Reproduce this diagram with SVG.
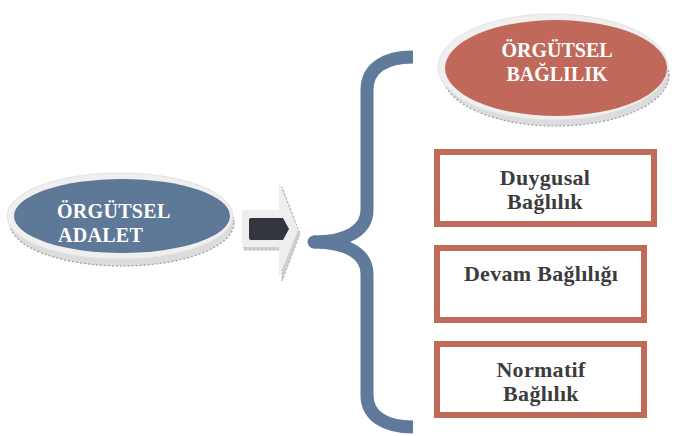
<svg xmlns="http://www.w3.org/2000/svg" width="682" height="436" viewBox="0 0 682 436">
<defs>
<style>
.rim{fill:#f0efef;stroke:#e2e2e2;stroke-width:1}
.base{fill:#dcdcdc;stroke:#9c9c9c;stroke-width:1.2;stroke-dasharray:2 2}
.etxt{font-family:"Liberation Serif","Times New Roman",serif;font-weight:bold;fill:#ffffff;font-size:20px}
.box{fill:#ffffff;stroke:#c06a59;stroke-width:6}
.btxt{font-family:"Liberation Serif","Times New Roman",serif;font-weight:bold;fill:#3c3c3e;font-size:22px;text-anchor:middle;letter-spacing:0.3px}
</style>
</defs>
<rect width="682" height="436" fill="#ffffff"/>

<g id="node-adalet">
<ellipse class="base" cx="122" cy="223" rx="112" ry="43"/>
<ellipse class="rim" cx="120" cy="216" rx="113" ry="43"/>
<ellipse cx="122" cy="216" rx="108" ry="37" fill="#5e7898"/>
<text class="etxt" x="57" y="218" letter-spacing="0.3">ÖRGÜTSEL</text>
<text class="etxt" x="58" y="242" letter-spacing="0.3">ADALET</text>
</g>

<g id="node-arrow">
<polygon points="244,214 282,214 282,187 300,234 282,281 282,250 244,250" fill="#cfcfcf" stroke="#a8a8a8" stroke-width="1" stroke-dasharray="2 2"/>
<polygon points="242,210 279,210 279,182 298,230 279,277 279,247 242,247" fill="#efeeee"/>
<path d="M251,218 L283,218 L289,229 L283,240 L251,240 Q249,240 249,238 L249,220 Q249,218 251,218 Z" fill="#33363d"/>
</g>

<g id="connectors">
<path d="M413,57 C385,57 367,68 367,90 L367,210 C367,230 347,242 314,242 C347,242 367,254 367,274 L367,395 C367,416 385,427 413,427" fill="none" stroke="#5f7a9a" stroke-width="13" stroke-linejoin="round"/>
<circle cx="315" cy="242" r="6.5" fill="#5f7a9a"/>
</g>

<g id="node-baglilik">
<ellipse class="base" cx="556" cy="75" rx="113" ry="51"/>
<ellipse class="rim" cx="553" cy="67" rx="115" ry="53"/>
<ellipse cx="556" cy="68" rx="111" ry="48" fill="#c0695a"/>
<text class="etxt" x="557" y="57" text-anchor="middle" font-size="21">ÖRGÜTSEL</text>
<text class="etxt" x="557" y="81" text-anchor="middle" font-size="21">BAĞLILIK</text>
</g>

<g id="node-duygusal">
<rect class="box" x="437" y="152" width="217" height="72"/>
<text class="btxt" x="545" y="185">Duygusal</text>
<text class="btxt" x="545" y="209">Bağlılık</text>
</g>

<g id="node-devam">
<rect class="box" x="437" y="248" width="207" height="72"/>
<text class="btxt" x="541" y="281">Devam Bağlılığı</text>
</g>

<g id="node-normatif">
<rect class="box" x="437" y="344" width="207" height="71"/>
<text class="btxt" x="541" y="377">Normatif</text>
<text class="btxt" x="541" y="401">Bağlılık</text>
</g>
</svg>
